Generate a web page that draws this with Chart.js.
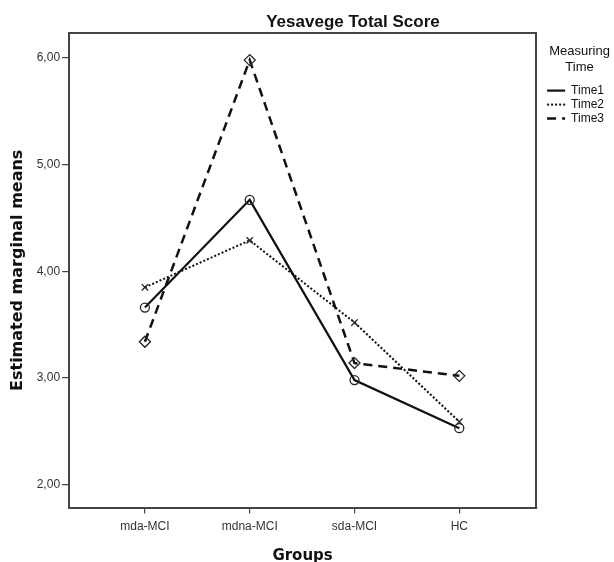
<!DOCTYPE html>
<html><head><meta charset="utf-8">
<script src="https://cdn.jsdelivr.net/npm/chart.js@4/dist/chart.umd.min.js"></script>
<style>
html,body{margin:0;padding:0;background:#fff;}
#wrap{position:relative;width:614px;height:562px;overflow:hidden;}
#title{position:absolute;left:0;width:706px;top:12px;text-align:center;font:bold 17px "Liberation Sans",Arial,sans-serif;color:#111;line-height:20px;}
canvas{position:absolute;left:0;top:0;}
</style></head><body>
<div id="wrap"><canvas id="c" width="614" height="562"></canvas><div id="title"></div></div>
<script>
const chartTitle = 'Yesavege Total Score';
const xTitle = 'Groups';
const yTitle = 'Estimated marginal means';
const legendTitle = ['Measuring', 'Time'];
const categories = ['mda-MCI', 'mdna-MCI', 'sda-MCI', 'HC'];
const seriesNames = ['Time1', 'Time2', 'Time3'];
const time1 = [3.66, 4.67, 2.98, 2.53];
const time2 = [3.85, 4.29, 3.52, 2.59];
const time3 = [3.34, 5.98, 3.14, 3.02];
const yTicks = [2, 3, 4, 5, 6];

document.getElementById('title').textContent = chartTitle;

const toPts = arr => arr.map((v, i) => ({x: i, y: v}));
const frame = '#444';
const tickFont = {family: '"Liberation Sans", Arial, sans-serif', size: 12};

new Chart(document.getElementById('c'), {
  type: 'line',
  data: {
    datasets: [
      {label: seriesNames[0], data: toPts(time1), borderColor: '#111', borderWidth: 2.2,
       pointStyle: 'circle', pointRadius: 4.5, pointBorderWidth: 1.3, pointBorderColor: '#222', pointBackgroundColor: 'rgba(0,0,0,0)', tension: 0},
      {label: seriesNames[1], data: toPts(time2), borderColor: '#111', borderWidth: 2, borderDash: [2, 2],
       pointStyle: 'crossRot', pointRadius: 4.5, pointBorderWidth: 1.3, pointBorderColor: '#222', pointBackgroundColor: 'rgba(0,0,0,0)', tension: 0},
      {label: seriesNames[2], data: toPts(time3), borderColor: '#111', borderWidth: 2.5, borderDash: [9, 6],
       pointStyle: 'rectRot', pointRadius: 5.5, pointBorderWidth: 1.3, pointBorderColor: '#222', pointBackgroundColor: 'rgba(0,0,0,0)', tension: 0}
    ]
  },
  options: {
    responsive: false,
    animation: false,
    devicePixelRatio: 1,
    layout: {padding: {top: 33, left: 0, right: 0, bottom: 0}},
    plugins: {
      tooltip: {enabled: false},
      title: {display: false},
      legend: {
        position: 'right',
        align: 'start',
        title: {display: true, text: legendTitle, color: '#111',
                font: {family: '"Liberation Sans", Arial, sans-serif', size: 13},
                padding: {top: 12, bottom: 22}},
        labels: {
          usePointStyle: true, pointStyle: 'line', pointStyleWidth: 18, padding: 2, color: '#111',
          font: {family: '"Liberation Sans", Arial, sans-serif', size: 12},
          generateLabels: chart => {
            const items = Chart.defaults.plugins.legend.labels.generateLabels(chart);
            return items.map(it => {
              const ds = chart.data.datasets[it.datasetIndex];
              it.lineWidth = ds.borderWidth;
              it.lineDash = ds.borderDash || [];
              it.strokeStyle = ds.borderColor;
              it.pointStyle = 'line';
              return it;
            });
          }
        }
      }
    },
    scales: {
      x: {
        type: 'linear', position: 'bottom', min: -0.724, max: 3.733,
        afterBuildTicks: s => { s.ticks = categories.map((c, i) => ({value: i})); },
        ticks: {callback: v => categories[v], color: '#333', font: tickFont, padding: 6, maxRotation: 0, autoSkip: false},
        grid: {display: true, drawOnChartArea: false, drawTicks: true, tickLength: 6, color: frame, lineWidth: 1.2},
        border: {display: true, color: frame, width: 2},
        title: {display: true, text: xTitle, color: '#111',
                font: {family: '"DejaVu Sans", Verdana, sans-serif', size: 15, weight: 'bold'},
                padding: {top: 7, bottom: -3}}
      },
      y: {
        type: 'linear', position: 'left', min: 1.785, max: 6.234,
        afterBuildTicks: s => { s.ticks = yTicks.map(v => ({value: v})); },
        ticks: {callback: v => v.toFixed(2).replace('.', ','), color: '#333', font: tickFont, padding: 2},
        grid: {display: true, drawOnChartArea: false, drawTicks: true, tickLength: 7, color: frame, lineWidth: 1.2},
        border: {display: true, color: frame, width: 2},
        title: {display: true, text: yTitle, color: '#111',
                font: {family: '"DejaVu Sans", Verdana, sans-serif', size: 16, weight: 'bold'},
                padding: {top: 8, bottom: 7.5}}
      },
      xTop: {
        type: 'linear', position: 'top', display: true,
        ticks: {display: false},
        grid: {display: true, drawOnChartArea: false, drawTicks: false},
        border: {display: true, color: frame, width: 2}
      },
      yRight: {
        type: 'linear', position: 'right', display: true,
        ticks: {display: false},
        grid: {display: true, drawOnChartArea: false, drawTicks: true, tickLength: 9, color: 'rgba(0,0,0,0)'},
        border: {display: true, color: frame, width: 2}
      }
    }
  }
});
</script>
</body></html>
